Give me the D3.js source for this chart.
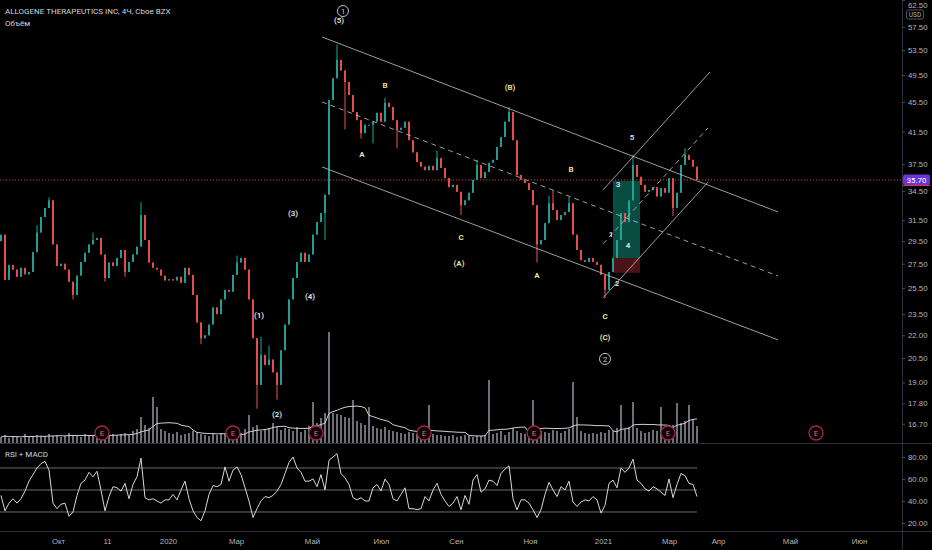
<!DOCTYPE html>
<html><head><meta charset="utf-8">
<script src="https://cdn.jsdelivr.net/npm/d3@7"></script>
<style>
html,body{margin:0;padding:0;background:#000;}
svg{display:block;font-family:Roboto,"Noto Sans",sans-serif;}
</style></head>
<body>
<svg id="c" width="932" height="550"></svg>
<script>
// ---------- DATA ----------
const closes = [30.1,26.15,27.4,27.0,26.4,27.15,26.6,26.8,28.5,30.3,
31.8,32.7,33.5,29.2,27.3,27.5,27.0,26.0,24.95,26.5,
27.65,28.45,29.2,29.6,29.8,28.3,26.3,27.6,27.3,28.0,
28.7,26.8,27.65,28.3,29.0,32.0,29.6,27.6,27.15,27.0,
26.5,26.1,26.2,26.1,26.4,25.9,27.15,26.55,24.95,22.9,
21.8,22.0,22.75,24.0,23.5,24.6,25.35,25.2,26.55,27.6,
28.0,27.0,24.6,21.8,18.85,20.7,20.05,20.4,19.6,18.85,
21.0,22.75,24.6,26.3,27.65,28.45,27.65,28.3,30.1,31.3,
32.2,34.1,45.8,49.0,51.9,50.2,48.45,46.5,44.1,43.0,
41.3,42.4,42.4,42.8,44.0,42.8,45.4,44.8,43.0,41.7,
42.0,42.8,40.4,38.9,37.75,37.2,36.8,37.3,36.8,38.2,
37.05,35.9,34.9,35.15,34.4,33.0,33.5,34.3,35.7,37.4,
35.9,36.6,37.65,38.0,39.55,40.8,42.8,44.1,40.4,36.25,
35.7,35.35,34.6,33.0,29.2,29.6,31.2,33.2,32.5,31.5,
32.0,32.3,33.2,30.1,28.7,27.8,27.65,28.0,27.65,27.4,
26.55,25.35,26.8,28.0,29.6,32.2,31.3,33.5,37.4,36.05,
35.15,34.4,34.6,34.9,33.9,34.8,34.3,35.9,32.7,34.3,
37.4,38.6,38.0,37.2,35.7];
const firstOpen = 29.5;
const wickHighs = [[9,31.0],[12,33.8],[23,30.3],[35,33.3],[59,28.2],[65,21.9],[67,21.3],[84,54.4],[96,46.1],[109,39.1],[119,38.0],[127,44.8],[137,34.0],[138,34.6],[142,33.9],[158,38.6],[171,39.4]];
const wickLows = [[18,24.6],[26,26.0],[31,26.4],[50,21.4],[64,17.5],[69,18.0],[81,29.6],[86,41.8],[90,40.6],[93,40.0],[99,39.4],[115,32.0],[134,27.6],[151,24.7],[168,31.9]];
const volumes = [600,800,500,700,600,500,900,600,700,800,
700,600,900,700,800,600,700,1000,800,700,
600,900,700,800,600,1000,700,800,900,800,
900,1000,800,1200,1400,2600,1800,1500,4600,3600,
1400,1200,1000,900,1100,800,900,1000,1200,1100,
900,800,700,900,800,1000,900,800,700,800,
1000,1400,2800,1600,1800,1200,1400,1500,2000,1600,
1300,1500,1400,1200,1600,1100,1300,1700,4100,2000,
2500,3000,11100,3000,2900,2800,2600,2500,4300,2200,
2000,1800,3600,1700,1500,1400,1600,1300,1200,1100,
1000,900,1100,1000,900,800,900,3800,900,800,
800,700,700,800,600,700,800,700,600,700,
700,800,6300,900,1000,1200,800,1100,1500,1200,
1000,900,1100,4300,1400,1200,1100,1000,1300,1200,
1000,1200,1400,6100,2600,1200,1000,900,1000,900,
1100,1000,1300,1200,1500,3800,1400,1600,4100,1500,
1200,1000,1100,1300,1200,3600,1400,1200,1800,4000,
2000,2200,3800,2400,1700];
const rsi = [45,31,38,42,38,42,49,58,64,70,
74,76,68,38,33,37,38,26,30,45,
56,59,66,62,67,50,31,44,53,52,
49,56,42,55,62,79,43,41,42,40,
38,41,41,46,41,50,58,42,31,25,
22,31,46,54,53,55,71,58,68,71,
64,52,40,25,33,40,44,43,45,49,
55,65,75,80,70,66,58,58,60,53,
64,50,77,80,83,65,61,55,43,41,
43,40,40,52,55,49,60,55,42,40,
46,52,33,33,32,33,44,40,50,56,
46,40,35,38,44,32,45,37,59,64,
48,51,59,58,54,65,69,72,42,32,
41,41,38,32,25,32,46,57,50,44,
53,50,58,39,35,39,41,40,44,41,
29,36,56,59,52,70,66,70,78,59,
56,51,49,53,51,48,45,60,43,55,
65,63,56,55,44];
const priceTicks = [62.5,57.5,53.5,49.5,45.5,41.5,37.5,34.5,31.5,29.5,27.5,25.5,23.5,22.0,20.5,19.0,17.8,16.7];
const rsiTicks = [80,60,40,20];
const rsiBands = [70,50,30];
const timeTickIdx = [14.25,26.5,41.75,58.75,77.75,95,113.75,132.25,150.5,167,179.25,197.25,214.5];
const timeTickLabels = ["Окт","11","2020","Мар","Май","Июл","Сен","Ноя","2021","Мар","Апр","Май","Июн"];
const earningsIdx = [25.25,58,78.75,105.75,133.25,166.75,203.75];
const lastPrice = 35.70;
// channel lines: [i1,p1,i2,p2,dashed]
const channels = [
 [80.25,55.73,194.25,32.31,false],
 [80.25,45.51,194.25,26.47,true],
 [80.25,37.17,194.25,21.69,false],
 [150.5,34.60,177.25,49.97,false],
 [150.5,29.25,176.75,41.98,true],
 [150.5,24.72,176.75,35.46,false]
];
// position tool: [i1,i2,entry,target,stop]
const position = [153,159.75,27.98,35.59,26.73];
// wave labels: [text, i, price, kind] kind: w=white, y=yellow, c=circled
const waves = [
 ["1",85.5,60.42,"c"],["(5)",84.5,58.75,"w"],["B",96,47.99,"y"],["A",90.25,38.71,"y"],
 ["(B)",127.25,47.69,"y"],["C",115,29.89,"y"],["(A)",114.5,27.57,"y"],["B",142.5,36.94,"y"],
 ["A",134,26.56,"y"],["C",151,23.38,"y"],["(C)",151,21.89,"y"],["2",151,20.44,"c"],
 ["5",157.75,40.81,"w"],["3",154.25,35.26,"w"],["1",152.5,30.18,"w"],["4",156.75,29.16,"w"],
 ["2",154,25.90,"w"],["(1)",64.5,23.44,"w"],["(2)",69,17.23,"w"],["(3)",73,32.22,"w"],["(4)",77.25,24.87,"w"]
];

// ---------- LAYOUT ----------
const W=932,H=550, axisX=902, mainBottom=443, rsiTop=443, rsiBottom=531;
const svg=d3.select("#c");
svg.append("rect").attr("width",W).attr("height",H).attr("fill","#000");

const x=d3.scaleLinear().domain([0,closes.length-1]).range([1,697]);
const y=d3.scaleLog().domain([15.73,62.53]).range([mainBottom,0]);
const yv=d3.scaleLinear().domain([0,11300]).range([mainBottom,330]);
const yr=d3.scaleLinear().domain([12.7,92.7]).range([rsiBottom,rsiTop]);

const candles=closes.map((c,i)=>{
  const o=i===0?firstOpen:closes[i-1];
  return {i,o,c,h:Math.max(o,c),l:Math.min(o,c)};
});
wickHighs.forEach(([i,p])=>{candles[i].h=Math.max(candles[i].h,p);});
wickLows.forEach(([i,p])=>{candles[i].l=Math.min(candles[i].l,p);});

svg.append("clipPath").attr("id","clipMain").append("rect").attr("x",0).attr("y",0).attr("width",axisX).attr("height",mainBottom);
const main=svg.append("g").attr("clip-path","url(#clipMain)");

// volume
main.append("g").selectAll("rect").data(volumes).join("rect")
  .attr("x",(d,i)=>x(i)-1).attr("width",2)
  .attr("y",d=>yv(d)).attr("height",d=>mainBottom-yv(d))
  .attr("fill","#6e7077");
const win=10;
const volMA=volumes.map((v,i)=>d3.mean(volumes.slice(Math.max(0,i-win+1),i+1)));
main.append("path").datum(volMA)
  .attr("d",d3.line().x((d,i)=>x(i)).y(d=>yv(d)))
  .attr("fill","none").attr("stroke","#cfcfcf").attr("stroke-width",1);

// position tool
const [pi1,pi2,pe,pt,ps]=position;
main.append("rect").attr("x",x(pi1)).attr("width",x(pi2)-x(pi1))
  .attr("y",y(pt)).attr("height",y(pe)-y(pt)).attr("fill","rgba(16,140,120,0.55)");
main.append("rect").attr("x",x(pi1)).attr("width",x(pi2)-x(pi1))
  .attr("y",y(pe)).attr("height",y(ps)-y(pe)).attr("fill","rgba(170,40,50,0.45)");

// candles
const up="#26a69a", dn="#ef5350";
const cg=main.append("g");
cg.selectAll("line").data(candles).join("line")
  .attr("x1",d=>x(d.i)).attr("x2",d=>x(d.i))
  .attr("y1",d=>y(d.h)).attr("y2",d=>y(d.l))
  .attr("stroke",d=>d.c>=d.o?up:dn).attr("stroke-width",1);
cg.selectAll("rect").data(candles).join("rect")
  .attr("x",d=>x(d.i)-0.9).attr("width",1.8)
  .attr("y",d=>y(Math.max(d.o,d.c)))
  .attr("height",d=>Math.max(1,y(Math.min(d.o,d.c))-y(Math.max(d.o,d.c))))
  .attr("fill",d=>d.c>=d.o?up:dn);

// channels
channels.forEach(([i1,p1,i2,p2,dash])=>{
  main.append("line").attr("x1",x(i1)).attr("y1",y(p1)).attr("x2",x(i2)).attr("y2",y(p2))
   .attr("stroke","#b7b9c0").attr("stroke-width",1).attr("opacity",0.85)
   .attr("stroke-dasharray",dash?"5,4":null);
});

// current price line
main.append("line").attr("x1",0).attr("x2",axisX).attr("y1",y(lastPrice)).attr("y2",y(lastPrice))
  .attr("stroke","#f23645").attr("stroke-width",1).attr("stroke-dasharray","1,2");

// wave labels
waves.forEach(([t,i,p,k])=>{
  const g=svg.append("g").attr("transform",`translate(${x(i)},${y(p)})`);
  if(k==="c"){
    g.append("circle").attr("r",5.5).attr("fill","none").attr("stroke","#d1d4dc").attr("stroke-width",0.9);
    g.append("text").text(t).attr("text-anchor","middle").attr("dy","0.35em")
      .attr("font-size",7.5).attr("fill","#d1d4dc");
  } else {
    g.append("text").text(t).attr("text-anchor","middle").attr("dy","0.35em")
      .attr("font-size",8).attr("font-weight",600)
      .attr("fill",k==="y"?"#f3e7a1":"#e0e3eb");
  }
});

// earnings markers
earningsIdx.forEach(i=>{
  const g=svg.append("g").attr("transform",`translate(${x(i)},433)`);
  g.append("circle").attr("r",7).attr("fill","#0b0203").attr("stroke","#a3264a").attr("stroke-width",1.3);
  g.append("text").text("E").attr("text-anchor","middle").attr("dy","0.35em")
    .attr("font-size",8).attr("fill","#e0607a");
});

// panel separators
svg.append("line").attr("x1",0).attr("x2",W).attr("y1",mainBottom+0.5).attr("y2",mainBottom+0.5).attr("stroke","#2a2e39");
svg.append("line").attr("x1",0).attr("x2",W).attr("y1",rsiBottom+0.5).attr("y2",rsiBottom+0.5).attr("stroke","#2a2e39");
svg.append("line").attr("x1",axisX+0.5).attr("x2",axisX+0.5).attr("y1",0).attr("y2",H).attr("stroke","#2a2e39");

// RSI pane
rsiBands.forEach(v=>{
  svg.append("line").attr("x1",0).attr("x2",x(closes.length-1)).attr("y1",yr(v)).attr("y2",yr(v))
    .attr("stroke","#6b6d73").attr("stroke-width",1);
});
svg.append("path").datum(rsi)
  .attr("d",d3.line().x((d,i)=>x(i)).y(d=>yr(d)))
  .attr("fill","none").attr("stroke","#d8d8d8").attr("stroke-width",1);

// axes
const axStyle=g=>{g.select(".domain").remove();g.selectAll("text").attr("fill","#b2b5be").attr("font-size",7.8);g.selectAll("line").attr("stroke","#4a4d55");};
const pAxis=svg.append("g").attr("transform",`translate(${axisX},0)`)
  .call(d3.axisRight(y).tickValues(priceTicks).tickFormat(d3.format(".2f")).tickSize(3).tickPadding(3))
  .call(axStyle);
// keep the top label fully inside the picture
pAxis.selectAll(".tick").filter(d=>y(d)<5).select("text").attr("y",5).attr("dy","0").attr("dominant-baseline","middle");
svg.append("g").attr("transform",`translate(${axisX},0)`)
  .call(d3.axisRight(yr).tickValues(rsiTicks).tickFormat(d3.format(".2f")).tickSize(3).tickPadding(3))
  .call(axStyle);
svg.append("g").attr("transform",`translate(0,${rsiBottom+4})`)
  .call(d3.axisBottom(x).tickValues(timeTickIdx).tickFormat((d,i)=>timeTickLabels[i]).tickSize(0).tickPadding(3))
  .call(axStyle);

// last price label
const ly=y(lastPrice);
svg.append("rect").attr("x",axisX+1).attr("y",ly-5.5).attr("width",27).attr("height",10.5).attr("rx",2).attr("fill","#6a35d8");
svg.append("text").attr("x",axisX+14.5).attr("y",ly).attr("dy","0.35em").attr("text-anchor","middle")
  .attr("font-size",7.8).attr("fill","#fff").text(lastPrice.toFixed(2));
svg.append("line").attr("x1",axisX+1).attr("x2",axisX+28).attr("y1",ly+5.5).attr("y2",ly+5.5).attr("stroke","#f23645");

// USD box
svg.append("rect").attr("x",axisX+4.5).attr("y",10).attr("width",17).attr("height",9).attr("rx",2)
  .attr("fill","#000").attr("stroke","#50535b");
svg.append("text").attr("x",axisX+13).attr("y",14.5).attr("dy","0.35em").attr("text-anchor","middle")
  .attr("font-size",6.5).attr("fill","#b2b5be").text("USD");

// titles
svg.append("text").attr("x",5).attr("y",14).attr("font-size",8).attr("fill","#d1d4dc")
  .text("ALLOGENE THERAPEUTICS INC, 4Ч, Cboe BZX");
svg.append("text").attr("x",5).attr("y",25.5).attr("font-size",8).attr("fill","#d1d4dc").text("Объём");
svg.append("text").attr("x",5).attr("y",457).attr("font-size",8).attr("fill","#d1d4dc").text("RSI + MACD");
</script>
</body></html>
